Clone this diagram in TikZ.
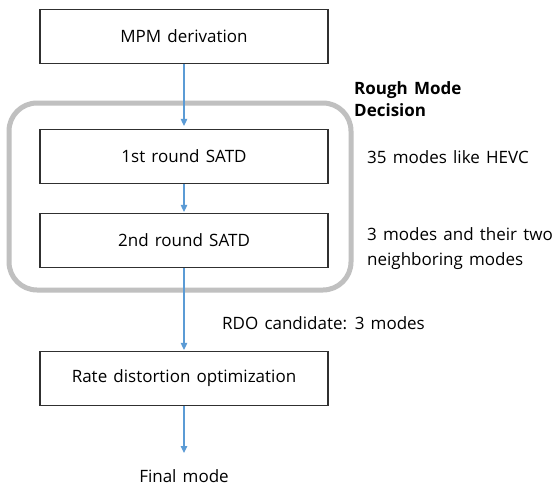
\documentclass[tikz,border=0pt]{standalone}
\usepackage{fontspec}
\setmainfont{Open Sans}[WordSpace={1.4,1,1}]
\usetikzlibrary{arrows.meta}
\definecolor{arrowblue}{HTML}{5B9BD5}
\definecolor{groupgray}{HTML}{C0C0C0}
\definecolor{boxline}{HTML}{303030}
\begin{document}
\begin{tikzpicture}[x=1pt,y=-1pt,
  txt/.style={font=\fontsize{17}{25}\selectfont},
  procbox/.style={txt,draw=boxline,line width=1.2pt,minimum width=288pt,minimum height=54pt,inner sep=0pt},
  flow/.style={draw=arrowblue,line width=1.1pt,-{Triangle[width=6.5pt,length=7pt]}},
  note/.style={txt,anchor=west,inner sep=0pt,align=left}]
\useasboundingbox[fill=white] (0,0) rectangle (558,488);
\draw[groupgray,line width=5pt,rounded corners=28pt] (9,103) rectangle (351,290);
\node[procbox] (mpm) at (184,36.5) {MPM derivation};
\node[procbox] (r1) at (184,156.5) {1st round SATD};
\node[procbox] (r2) at (184,240.5) {2nd round SATD};
\node[procbox] (rdo) at (184,378.5) {Rate distortion optimization};
\coordinate (fin) at (184,453);
\node[txt,inner sep=0pt] (finlabel) at (184,476) {Final mode};
\node[anchor=west,inner sep=0pt,font=\bfseries\fontsize{17}{22}\selectfont,align=left] (rough) at (354,99) {Rough Mode\\Decision};
\node[note] (n1) at (367,157) {35 modes like HEVC};
\node[note] (n2) at (367,248.5) {3 modes and their two\\neighboring modes};
\node[note] (n3) at (222,323) {RDO candidate: 3 modes};
\draw[flow,shorten >=3pt] (mpm) -- (r1);
\draw[flow,shorten >=1pt] (r1) -- (r2);
\draw[flow,shorten >=1pt] (r2) -- (rdo);
\draw[flow] (rdo) -- (fin);
\end{tikzpicture}
\end{document}
